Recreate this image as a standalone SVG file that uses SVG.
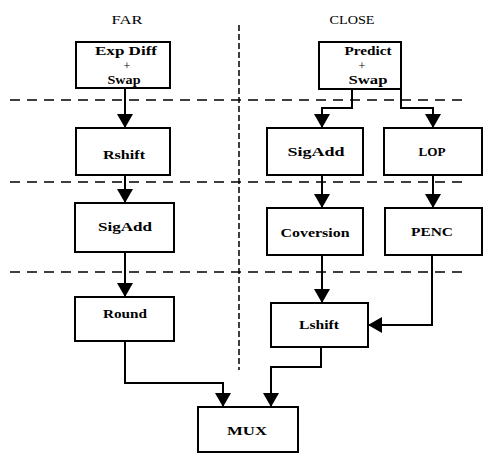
<svg xmlns="http://www.w3.org/2000/svg" width="495" height="458" viewBox="0 0 495 458">
<defs>
<style>
.box{fill:#fff;stroke:#000;stroke-width:2}
.t{font-family:"Liberation Serif","Times New Roman",serif;font-weight:bold;font-size:13px;fill:#000;text-anchor:middle}
.p{font-family:"Liberation Serif","Times New Roman",serif;font-size:12px;fill:#000;text-anchor:middle}
.h{font-family:"Liberation Serif","Times New Roman",serif;font-size:13px;fill:#000;text-anchor:middle}
.c{fill:none;stroke:#000;stroke-width:2;marker-end:url(#ah)}
.dh{fill:none;stroke:#000;stroke-width:1.5;stroke-dasharray:10 7}
.dv{fill:none;stroke:#000;stroke-width:1.5;stroke-dasharray:6 3}
</style>
<marker id="ah" markerWidth="14" markerHeight="16" refX="14" refY="8" orient="auto" markerUnits="userSpaceOnUse" viewBox="0 0 14 16"><path d="M0,0 L14,8 L0,16 z" fill="#000"/></marker>
</defs>
<rect width="495" height="458" fill="#fff"/>
<g id="separators">
<path class="dh" d="M10,100 H465"/>
<path class="dh" d="M10,182 H465"/>
<path class="dh" d="M10,272 H465"/>
<path class="dv" d="M239,25 V370"/>
</g>
<g id="labels">
<text class="h" x="127" y="24" textLength="31" lengthAdjust="spacingAndGlyphs">FAR</text>
<text class="h" x="352" y="24" textLength="45" lengthAdjust="spacingAndGlyphs">CLOSE</text>
</g>
<g id="connectors">
<path class="c" d="M125,88 V128"/>
<path class="c" d="M125,175 V203"/>
<path class="c" d="M125,252 V297"/>
<path class="c" d="M125,341 V383 H223 V407"/>
<path class="c" d="M352,89 V108 H322 V128"/>
<path class="c" d="M401,89 V108 H433 V128"/>
<path class="c" d="M322,175 V208"/>
<path class="c" d="M433,175 V208"/>
<path class="c" d="M322,255 V303"/>
<path class="c" d="M432,255 V325 H368"/>
<path class="c" d="M321,347 V367 H271 V407"/>
</g>
<g id="expdiff">
<rect class="box" x="76" y="42" width="94" height="46"/>
<text class="t" x="126" y="55" textLength="62" lengthAdjust="spacingAndGlyphs">Exp Diff</text>
<text class="p" x="127" y="69.5">+</text>
<text class="t" x="124" y="84" textLength="33" lengthAdjust="spacingAndGlyphs">Swap</text>
</g>
<g id="rshift">
<rect class="box" x="76" y="128" width="94" height="47"/>
<text class="t" x="124" y="159" textLength="42" lengthAdjust="spacingAndGlyphs">Rshift</text>
</g>
<g id="sigadd-far">
<rect class="box" x="75" y="203" width="99" height="49"/>
<text class="t" x="125" y="231" textLength="54" lengthAdjust="spacingAndGlyphs">SigAdd</text>
</g>
<g id="round">
<rect class="box" x="75" y="297" width="99" height="44"/>
<text class="t" x="125" y="318" textLength="44" lengthAdjust="spacingAndGlyphs">Round</text>
</g>
<g id="predict">
<rect class="box" x="319" y="42" width="82" height="47"/>
<text class="t" x="368" y="55" textLength="47" lengthAdjust="spacingAndGlyphs">Predict</text>
<text class="p" x="362" y="69.5">+</text>
<text class="t" x="368" y="84" textLength="39" lengthAdjust="spacingAndGlyphs">Swap</text>
</g>
<g id="sigadd-close">
<rect class="box" x="267" y="128" width="96" height="47"/>
<text class="t" x="316" y="156" textLength="57" lengthAdjust="spacingAndGlyphs">SigAdd</text>
</g>
<g id="lop">
<rect class="box" x="384" y="128" width="98" height="47"/>
<text class="t" x="432" y="156" textLength="27" lengthAdjust="spacingAndGlyphs">LOP</text>
</g>
<g id="coversion">
<rect class="box" x="267" y="208" width="96" height="47"/>
<text class="t" x="315" y="237" textLength="69" lengthAdjust="spacingAndGlyphs">Coversion</text>
</g>
<g id="penc">
<rect class="box" x="385" y="208" width="97" height="47"/>
<text class="t" x="432" y="236" textLength="42" lengthAdjust="spacingAndGlyphs">PENC</text>
</g>
<g id="lshift">
<rect class="box" x="271" y="303" width="97" height="44"/>
<text class="t" x="319" y="329" textLength="40" lengthAdjust="spacingAndGlyphs">Lshift</text>
</g>
<g id="mux">
<rect class="box" x="198" y="407" width="100" height="45"/>
<text class="t" x="247" y="435" textLength="40" lengthAdjust="spacingAndGlyphs">MUX</text>
</g>
</svg>
